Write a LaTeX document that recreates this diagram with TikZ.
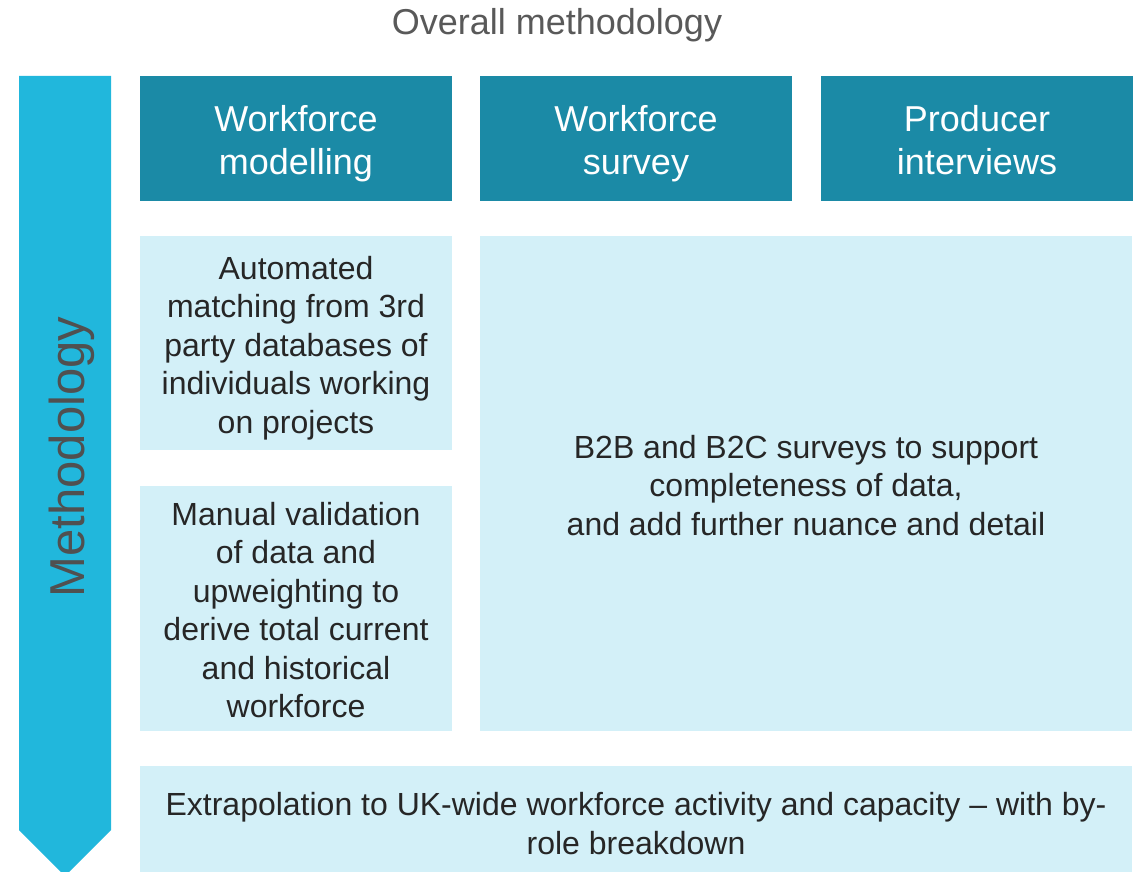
\documentclass[tikz,border=0pt]{standalone}
\usepackage{fontspec}
\setmainfont{Liberation Sans}
\definecolor{headteal}{RGB}{27,138,166}
\definecolor{arrowblue}{RGB}{33,183,220}
\definecolor{paleblue}{RGB}{211,240,248}
\definecolor{bodytext}{RGB}{38,38,38}
\definecolor{titlegray}{RGB}{89,89,89}
\definecolor{sidegray}{RGB}{80,80,80}
% fixed struts so every text block sits at the same height in its box
\newcommand\HeadTop{\rule{0pt}{37pt}}
\newcommand\HeadBot{\rule[-8pt]{0pt}{8pt}}
\newcommand\BodyTop{\rule{0pt}{34pt}}
\newcommand\BodyBot{\rule[-8pt]{0pt}{8pt}}
\begin{document}
\begin{tikzpicture}[x=1pt,y=-1pt,
  head/.style={fill=headteal, text=white, inner sep=0pt, minimum width=312pt,
    minimum height=125pt, align=center, font=\fontsize{36}{43}\selectfont},
  body/.style={fill=paleblue, text=bodytext, inner sep=0pt, align=center,
    font=\fontsize{32}{38.5}\selectfont},
]
\useasboundingbox (0,0) rectangle (1140,872);

% title
\node[text=titlegray, font=\fontsize{36}{43}\selectfont] (title) at (557,25) {Overall methodology};

% downward process arrow on the left
\fill[arrowblue] (19,76) -- (111,76) -- (111,830) -- (65,876) -- (19,830) -- cycle;
\node[rotate=90, text=sidegray, font=\fontsize{49}{57}\selectfont] (side) at (72,457) {Methodology};

% column headers
\node[head] (hmodel) at (296,138.5) {\HeadTop Workforce\\modelling\HeadBot};
\node[head] (hsurvey) at (636,138.5) {\HeadTop Workforce\\survey\HeadBot};
\node[head] (hinterv) at (977,138.5) {\HeadTop Producer\\interviews\HeadBot};

% detail boxes
\node[body, minimum width=312pt, minimum height=214pt] (auto) at (296,343)
  {\BodyTop Automated\\matching from 3rd\\party databases of\\individuals working\\on projects\BodyBot};
\node[body, minimum width=312pt, minimum height=245pt] (manual) at (296,608.5)
  {\BodyTop Manual validation\\of data and\\upweighting to\\derive total current\\and historical\\workforce\BodyBot};
\node[body, minimum width=652pt, minimum height=495pt] (survey) at (806,483.5)
  {\BodyTop B2B and B2C surveys to support\\completeness of data,\\ and add further nuance and detail\BodyBot};
\node[body, minimum width=992pt, minimum height=112pt] (extra) at (636,822)
  {\BodyTop Extrapolation to UK-wide workforce activity and capacity -- with by-\\role breakdown\BodyBot};
\end{tikzpicture}
\end{document}
